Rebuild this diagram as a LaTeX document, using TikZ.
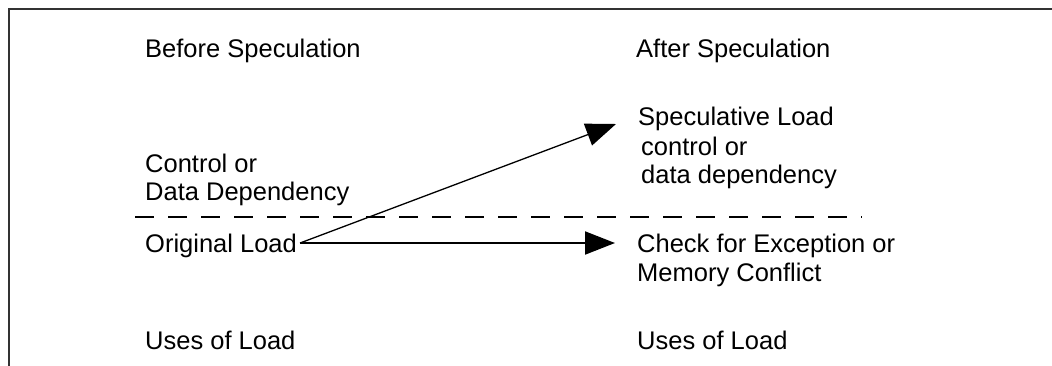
\documentclass[tikz,border=0pt]{standalone}
\usepackage{fontspec}
\setmainfont{Liberation Sans}
\usetikzlibrary{arrows.meta}
\begin{document}
\begin{tikzpicture}[x=1pt,y=-1pt,
  lbl/.style={anchor=base west,inner sep=0pt,font=\fontsize{25.5}{30}\selectfont},
  frame/.style={draw=black!80,line width=1.6pt},
  sep/.style={draw=black,line width=1.6pt,dash pattern=on 19pt off 14pt},
  arr/.style={draw=black,-{Triangle[length=30pt,width=23pt]}}]
\useasboundingbox (0,0) rectangle (1052,365);
\draw[frame] (1052,9) -- (9,9) -- (9,366);
% left column
\node[lbl] (before) at (145,57) {Before Speculation};
\node[lbl] (ctrl1) at (145,172) {Control or};
\node[lbl] (ctrl2) at (145,200) {Data Dependency};
\node[lbl] (orig) at (145,252) {Original Load};
\node[lbl] (usesL) at (145,349) {Uses of Load};
% right column
\node[lbl] (after) at (636,57) {After Speculation};
\node[lbl] (spec) at (638,125) {Speculative Load};
\node[lbl] (dep1) at (641,155) {control or};
\node[lbl] (dep2) at (641,183) {data dependency};
\node[lbl] (check) at (637,252) {Check for Exception or};
\node[lbl] (mem) at (637,281) {Memory Conflict};
\node[lbl] (usesR) at (637,349) {Uses of Load};
% dashed separator
\coordinate (dl) at (135,217);
\coordinate (dr) at (862,217);
\draw[sep] (dl) -- (dr);
% arrows
\coordinate (src) at ([xshift=3pt,yshift=9pt]orig.base east);
\draw[arr,line width=1.3pt] (src) -- ([xshift=-22pt,yshift=1pt]spec.base west);
\draw[arr,line width=2pt] (src) -- ([xshift=-22pt,yshift=9pt]check.base west);
\end{tikzpicture}
\end{document}
